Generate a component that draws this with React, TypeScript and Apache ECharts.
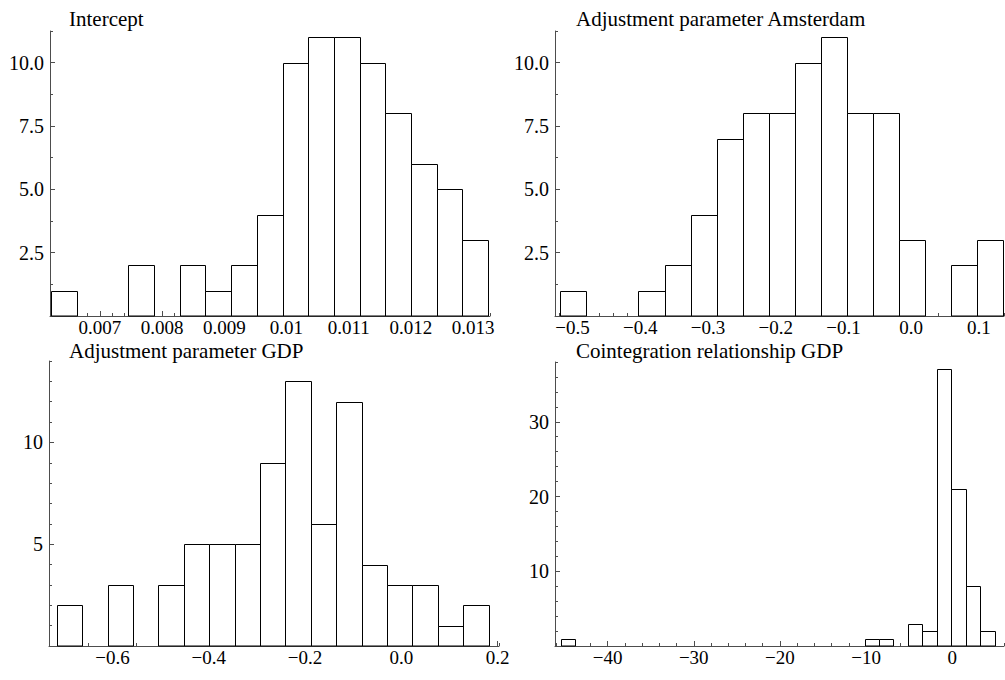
import React, { useEffect, useRef } from 'react';
import * as echarts from 'echarts';

// ---------- Data ----------
// Panel 1: Intercept
const interceptEdges = [
  0.00622, 0.006633, 0.007046, 0.007459, 0.007872, 0.008285, 0.008698, 0.009111, 0.009524,
  0.009937, 0.01035, 0.010763, 0.011176, 0.011589, 0.012002, 0.012415, 0.012828, 0.013241,
];
const interceptCounts = [1, 0, 0, 2, 0, 2, 1, 2, 4, 10, 11, 11, 10, 8, 6, 5, 3];
const interceptXTicks = [0.007, 0.008, 0.009, 0.01, 0.011, 0.012, 0.013];
const interceptXLabels = ['0.007', '0.008', '0.009', '0.01', '0.011', '0.012', '0.013'];

// Panel 2: Adjustment parameter Amsterdam
const amsterdamEdges = [
  -0.518, -0.47957, -0.44114, -0.40271, -0.36428, -0.32585, -0.28742, -0.24899, -0.21056,
  -0.17213, -0.1337, -0.09527, -0.05684, -0.01841, 0.02002, 0.05845, 0.09688, 0.13531,
];
const amsterdamCounts = [1, 0, 0, 1, 2, 4, 7, 8, 8, 10, 11, 8, 8, 3, 0, 2, 3];
const amsterdamXTicks = [-0.5, -0.4, -0.3, -0.2, -0.1, 0, 0.1];
const amsterdamXLabels = ['\u22120.5', '\u22120.4', '\u22120.3', '\u22120.2', '\u22120.1', '0.0', '0.1'];

// Shared y ticks of the two upper panels
const upperYTicks = [2.5, 5, 7.5, 10];
const upperYLabels = ['2.5', '5.0', '7.5', '10.0'];

// Panel 3: Adjustment parameter GDP
const gdpAdjEdges = [
  -0.7156, -0.66284, -0.61008, -0.55732, -0.50456, -0.4518, -0.39904, -0.34628, -0.29352,
  -0.24076, -0.188, -0.13524, -0.08248, -0.02972, 0.02304, 0.0758, 0.12856, 0.18132,
];
const gdpAdjCounts = [2, 0, 3, 0, 3, 5, 5, 5, 9, 13, 6, 12, 4, 3, 3, 1, 2];
const gdpAdjXTicks = [-0.6, -0.4, -0.2, 0, 0.2];
const gdpAdjXLabels = ['\u22120.6', '\u22120.4', '\u22120.2', '0.0', '0.2'];
const gdpAdjYTicks = [5, 10];
const gdpAdjYLabels = ['5', '10'];

// Panel 4: Cointegration relationship GDP
const cointEdges = [
  -45.4, -43.723, -42.046, -40.369, -38.692, -37.015, -35.338, -33.661, -31.984, -30.307,
  -28.63, -26.953, -25.276, -23.599, -21.922, -20.245, -18.568, -16.891, -15.214, -13.537,
  -11.86, -10.183, -8.506, -6.829, -5.152, -3.475, -1.798, -0.121, 1.556, 3.233, 4.91,
];
const cointCounts = [
  1, 0, 0, 0, 0, 0, 0, 0, 0, 0, 0, 0, 0, 0, 0, 0, 0, 0, 0, 0, 0, 1, 1, 0, 3, 2, 37, 21, 8, 2,
];
const cointXTicks = [-40, -30, -20, -10, 0];
const cointXLabels = ['\u221240', '\u221230', '\u221220', '\u221210', '0'];
const cointYTicks = [10, 20, 30];
const cointYLabels = ['10', '20', '30'];

const titles = [
  'Intercept',
  'Adjustment parameter Amsterdam',
  'Adjustment parameter GDP',
  'Cointegration relationship GDP',
];

// ---------- Styling / layout ----------
const FONT = "'Liberation Serif', 'Times New Roman', serif";
const AXIS_COLOR = '#4d4d4d';

interface PanelCfg {
  edges: number[];
  counts: number[];
  xMin: number;
  xMax: number;
  xTicks: number[];
  xLabels: string[];
  xMinor: { interval?: number; splitNumber?: number };
  yMax: number;
  yTicks: number[];
  yLabels: string[];
  yMinor: number;
  grid: { left: number; top: number; width: number; height: number };
  titlePos: { left: number; top: number };
}

const panels: PanelCfg[] = [
  {
    edges: interceptEdges, counts: interceptCounts,
    xMin: 0.0062, xMax: 0.01327, xTicks: interceptXTicks, xLabels: interceptXLabels,
    xMinor: { interval: 0.0002 },
    yMax: 11.25, yTicks: upperYTicks, yLabels: upperYLabels, yMinor: 1.25,
    grid: { left: 50, top: 31, width: 440, height: 285 },
    titlePos: { left: 69, top: 10 },
  },
  {
    edges: amsterdamEdges, counts: amsterdamCounts,
    xMin: -0.526, xMax: 0.137, xTicks: amsterdamXTicks, xLabels: amsterdamXLabels,
    xMinor: { splitNumber: 33 },
    yMax: 11.25, yTicks: upperYTicks, yLabels: upperYLabels, yMinor: 1.25,
    grid: { left: 555, top: 31, width: 449, height: 285 },
    titlePos: { left: 576, top: 10 },
  },
  {
    edges: gdpAdjEdges, counts: gdpAdjCounts,
    xMin: -0.732, xMax: 0.203, xTicks: gdpAdjXTicks, xLabels: gdpAdjXLabels,
    xMinor: { splitNumber: 19 },
    yMax: 14, yTicks: gdpAdjYTicks, yLabels: gdpAdjYLabels, yMinor: 1,
    grid: { left: 49, top: 361, width: 450, height: 285 },
    titlePos: { left: 69, top: 342 },
  },
  {
    edges: cointEdges, counts: cointCounts,
    xMin: -46.1, xMax: 6.0, xTicks: cointXTicks, xLabels: cointXLabels,
    xMinor: { splitNumber: 26 },
    yMax: 38, yTicks: cointYTicks, yLabels: cointYLabels, yMinor: 2,
    grid: { left: 555, top: 362, width: 449, height: 284 },
    titlePos: { left: 576, top: 342 },
  },
];

function lookup(ticks: number[], labels: string[]) {
  return (v: number) => {
    const i = ticks.findIndex((t) => Math.abs(t - v) < 1e-7);
    return i >= 0 ? labels[i] : '';
  };
}

function buildOption() {
  const grid: any[] = [];
  const xAxis: any[] = [];
  const yAxis: any[] = [];
  const series: any[] = [];
  const title: any[] = [];

  panels.forEach((p, i) => {
    grid.push({ ...p.grid, containLabel: false });
    title.push({
      text: titles[i],
      left: p.titlePos.left,
      top: p.titlePos.top,
      padding: 0,
      textStyle: { fontFamily: FONT, fontSize: 21, lineHeight: 17, fontWeight: 'normal', color: '#000' },
    });
    // major x
    xAxis.push({
      type: 'value', gridIndex: i, position: 'bottom', min: p.xMin, max: p.xMax,
      axisLine: { show: true, onZero: false, lineStyle: { color: AXIS_COLOR, width: 1 } },
      axisTick: { show: true, inside: true, length: 5, customValues: p.xTicks, lineStyle: { color: AXIS_COLOR } },
      axisLabel: {
        show: true, customValues: p.xTicks, formatter: lookup(p.xTicks, p.xLabels),
        margin: 4, lineHeight: 15, color: '#000', fontFamily: FONT, fontSize: 19,
      },
      splitLine: { show: false },
    });
    // minor x
    xAxis.push({
      type: 'value', gridIndex: i, position: 'bottom', min: p.xMin, max: p.xMax,
      ...p.xMinor,
      axisLine: { show: false, onZero: false },
      axisTick: { show: true, inside: true, length: 3, lineStyle: { color: AXIS_COLOR } },
      axisLabel: { show: false },
      splitLine: { show: false },
    });
    // major y
    yAxis.push({
      type: 'value', gridIndex: i, position: 'left', min: 0, max: p.yMax,
      axisLine: { show: true, onZero: false, lineStyle: { color: AXIS_COLOR, width: 1 } },
      axisTick: { show: true, inside: true, length: 5, customValues: p.yTicks, lineStyle: { color: AXIS_COLOR } },
      axisLabel: {
        show: true, customValues: p.yTicks, formatter: lookup(p.yTicks, p.yLabels),
        margin: 6, lineHeight: 16, color: '#000', fontFamily: FONT, fontSize: 20,
      },
      splitLine: { show: false },
    });
    // minor y
    yAxis.push({
      type: 'value', gridIndex: i, position: 'left', min: 0, max: p.yMax, interval: p.yMinor,
      axisLine: { show: false, onZero: false },
      axisTick: { show: true, inside: true, length: 3, lineStyle: { color: AXIS_COLOR } },
      axisLabel: { show: false },
      splitLine: { show: false },
    });

    const data = p.counts.map((c, k) => [p.edges[k], p.edges[k + 1], c]);
    series.push({
      type: 'custom',
      xAxisIndex: 2 * i,
      yAxisIndex: 2 * i,
      coordinateSystem: 'cartesian2d',
      encode: { x: [0, 1], y: 2 },
      data,
      renderItem: (params: any, api: any) => {
        const h = api.value(2);
        if (!h) return null;
        const a = api.coord([api.value(0), h]);
        const b = api.coord([api.value(1), 0]);
        const x0 = Math.round(a[0]) + 0.5;
        const x1 = Math.round(b[0]) + 0.5;
        const y0 = Math.round(a[1]) + 0.5;
        const y1 = b[1];
        return {
          type: 'rect',
          shape: { x: x0, y: y0, width: x1 - x0, height: y1 - y0 },
          style: { fill: '#ffffff', stroke: '#000000', lineWidth: 1 },
        };
      },
    });
  });

  return {
    animation: false,
    backgroundColor: '#ffffff',
    title,
    grid,
    xAxis,
    yAxis,
    series,
  };
}

export default function App() {
  const ref = useRef<HTMLDivElement>(null);
  useEffect(() => {
    if (!ref.current) return;
    const chart = echarts.init(ref.current, null, { renderer: 'svg' });
    chart.setOption(buildOption() as any);
    return () => chart.dispose();
  }, []);
  return (
    <div
      ref={ref}
      style={{ position: 'absolute', left: 0, top: 0, width: 1005, height: 680, background: '#fff' }}
    />
  );
}
